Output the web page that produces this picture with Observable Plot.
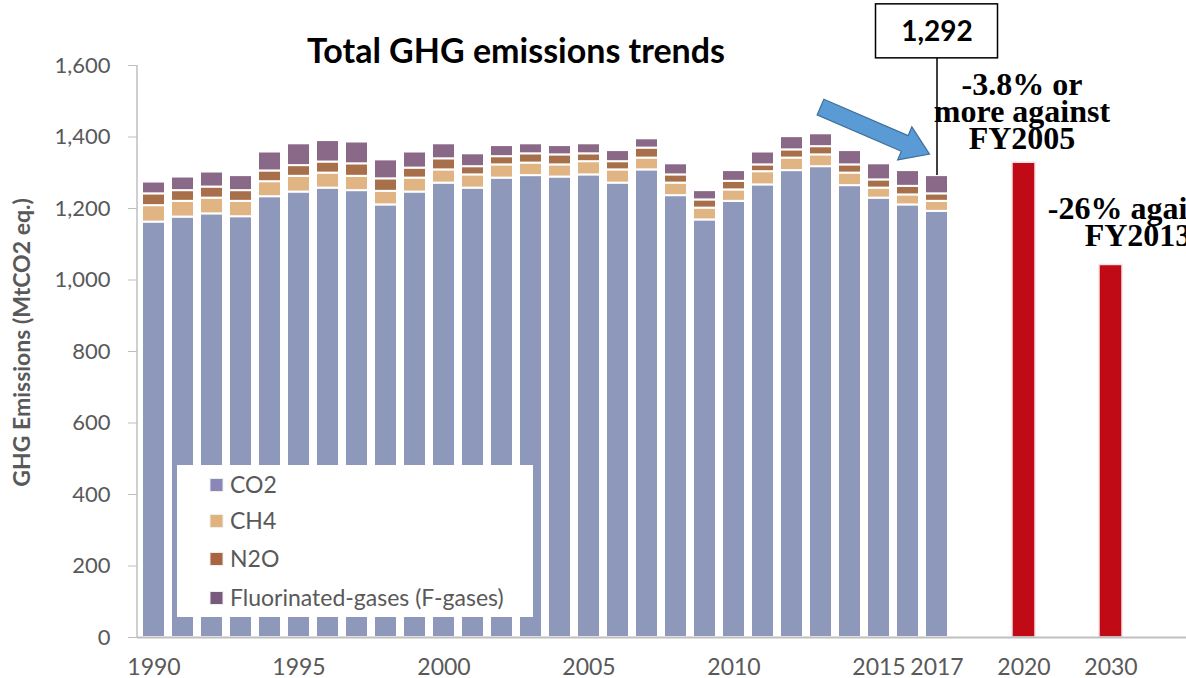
<!DOCTYPE html>
<html><head><meta charset="utf-8">
<script src="https://cdn.jsdelivr.net/npm/d3@7"></script>
<script src="https://cdn.jsdelivr.net/npm/@observablehq/plot@0.6"></script>
<style>
body{margin:0;background:#fff;overflow:hidden}
#chart{position:relative;width:1186px;height:678px}
</style>
</head><body><div id="chart"></div>
<script>
const years = ["1990","1991","1992","1993","1994","1995","1996","1997","1998","1999","2000","2001","2002","2003","2004","2005","2006","2007","2008","2009","2010","2011","2012","2013","2014","2015","2016","2017"];
const co2  = [1162,1176,1185,1177,1233,1246,1257,1250,1210,1246,1271,1257,1285,1292,1288,1294,1271,1308,1236,1168,1220,1266,1306,1317,1264,1229,1210,1192];
const ch4  = [46,44,44,43,42,44,42,40,38,39,37,37,37,35,34,37,37,33,35,33,32,37,35,33,35,28,28,28];
const n2o  = [33,30,31,30,30,30,31,35,35,28,31,23,23,26,28,22,23,28,23,23,24,19,23,23,23,23,24,21];
const fgas = [33,38,42,42,53,61,60,61,53,45,42,36,31,28,26,28,31,26,31,26,30,36,37,36,40,45,44,51];
const gases = ["CO2","CH4","N2O","Fluorinated-gases (F-gases)"];
const gasColors = ["#8d98bb","#e0b483","#a8704a","#8a6888"];
const legendColors = ["#8a86b8","#e0b27e","#a8653f","#7a5a7c"];
const targetYears = ["2020","2030"];
const targetValues = [1328,1042];
const slots = [...years,"g1","g2","2020","g3","g4","2030","g5","g6"];
const xTicks = ["1990","1995","2000","2005","2010","2015","2017","2020","2030"];
const yTicks = [0,200,400,600,800,1000,1200,1400,1600];
const title = "Total GHG emissions trends";
const yLabel = "GHG Emissions (MtCO2 eq.)";
const note2020 = "-3.8% or\nmore against\nFY2005";
const note2030 = "-26% against\nFY2013";

const series = [co2,ch4,n2o,fgas];
const stacked = years.flatMap((yr,i)=>gases.map((g,j)=>({year:yr,gas:g,value:series[j][i]})));
const targets = targetYears.map((yr,i)=>({year:yr,value:targetValues[i]}));
const latest = years[years.length-1];
const latestTotal = series.reduce((s,a)=>s+a[a.length-1],0);

const grey = "#595959";
const plot = Plot.plot({
  width:1186, height:678,
  marginLeft:137, marginRight:0, marginTop:65, marginBottom:41,
  style:{fontFamily:"Lato, sans-serif", background:"white", overflow:"visible"},
  x:{type:"band", domain:slots, paddingInner:0.2, paddingOuter:0.1, axis:null},
  y:{domain:[0,1600], axis:null},
  color:{domain:gases, range:gasColors},
  marks:[
    Plot.barY(stacked,{x:"year", y:"value", fill:"gas", order:gases, stroke:"white", strokeWidth:2}),
    Plot.barY(targets,{x:"year", y:"value", fill:"#c00b17", stroke:"#f2e2e4", strokeWidth:1.5}),
    Plot.ruleY([0],{stroke:"#bfbfbf", strokeWidth:2}),
    Plot.axisY({ticks:yTicks, tickFormat:d3.format(","), tickSize:9, tickPadding:18, fontSize:22, color:grey, stroke:"#bfbfbf", label:null}),
    Plot.axisX({ticks:xTicks, tickSize:0, tickPadding:21, fontSize:23, color:grey, label:null}),
    Plot.text([yLabel],{frameAnchor:"left", textAnchor:"middle", lineAnchor:"middle", rotate:-90, dx:-115, dy:-9, fontWeight:"bold", fontSize:23, fill:grey}),
    Plot.text([title],{frameAnchor:"top", textAnchor:"middle", dx:-146, dy:-27, fontWeight:"bold", fontSize:34, fill:"black"}),
    Plot.text([{year:"2020", value:targetValues[0], t:note2020}],{x:"year", y:"value", text:"t", lineAnchor:"top", lineHeight:0.84, dy:-87, dx:-2, fontFamily:"Liberation Serif, serif", fontWeight:"bold", fontSize:32, fill:"black"}),
    Plot.text([{year:"2030", value:targetValues[1], t:note2030}],{x:"year", y:"value", text:"t", lineAnchor:"top", lineHeight:0.84, dy:-65, dx:27, fontFamily:"Liberation Serif, serif", fontWeight:"bold", fontSize:32, fill:"black"}),
    Plot.ruleX([{year:latest, value:latestTotal}],{x:"year", y1:"value", y2:1620, stroke:"black", strokeWidth:1.5}),
    Plot.text([{year:latest, value:1695, t:d3.format(",")(latestTotal)}],{x:"year", y:"value", text:"t", fontWeight:"bold", fontSize:28, fill:"black"})
  ]
});

document.getElementById("chart").appendChild(plot);
const svg = d3.select(plot);
const xs = plot.scale("x"), ys = plot.scale("y");
const x0 = xs.range[0];
// y axis line
svg.append("line").attr("x1",x0).attr("x2",x0).attr("y1",ys.apply(1600)).attr("y2",ys.apply(0)).attr("stroke","#bfbfbf").attr("stroke-width",1.5);

// value box around latest total
const cx = xs.apply(latest) + xs.bandwidth/2;
const boxBottom = ys.apply(1620);
svg.append("rect")
  .attr("x",cx-61).attr("y",boxBottom-54).attr("width",122).attr("height",54)
  .attr("fill","white").attr("stroke","black").attr("stroke-width",1.5);
// bring text marks to front
svg.selectAll("g[aria-label='text']").raise();

// block arrow pointing to the latest bar
const py = ys.apply(latestTotal);
const tip = [cx-7, py-21], tail = [cx-116, py-68];
const dxA = tip[0]-tail[0], dyA = tip[1]-tail[1], L = Math.hypot(dxA,dyA);
const u = [dxA/L, dyA/L], nrm = [-u[1], u[0]];
const sw = 8.5, hw = 18, hl = 27;
const base = [tip[0]-u[0]*hl, tip[1]-u[1]*hl];
const pts = [
  [tail[0]+nrm[0]*sw, tail[1]+nrm[1]*sw],
  [base[0]+nrm[0]*sw, base[1]+nrm[1]*sw],
  [base[0]+nrm[0]*hw, base[1]+nrm[1]*hw],
  tip,
  [base[0]-nrm[0]*hw, base[1]-nrm[1]*hw],
  [base[0]-nrm[0]*sw, base[1]-nrm[1]*sw],
  [tail[0]-nrm[0]*sw, tail[1]-nrm[1]*sw]
];
svg.append("polygon").attr("points",pts.map(p=>p.join(",")).join(" "))
  .attr("fill","#5b9bd5").attr("stroke","#41719c").attr("stroke-width",1.2);

// legend box
const lg = svg.append("g");
lg.append("rect").attr("x",177).attr("y",465).attr("width",356).attr("height",152).attr("fill","white");
const rowY = [485,521,559,598];
gases.forEach((g,i)=>{
  lg.append("rect").attr("x",210).attr("y",rowY[i]-6.5).attr("width",13).attr("height",13)
    .attr("fill",legendColors[i]).attr("stroke","#eeeeee").attr("stroke-width",1);
  lg.append("text").attr("x",230).attr("y",rowY[i]).attr("dy","0.36em")
    .attr("text-anchor","start")
    .attr("font-family","Lato, sans-serif").attr("font-size",23).attr("fill",grey).text(g);
});
</script>
</body></html>
